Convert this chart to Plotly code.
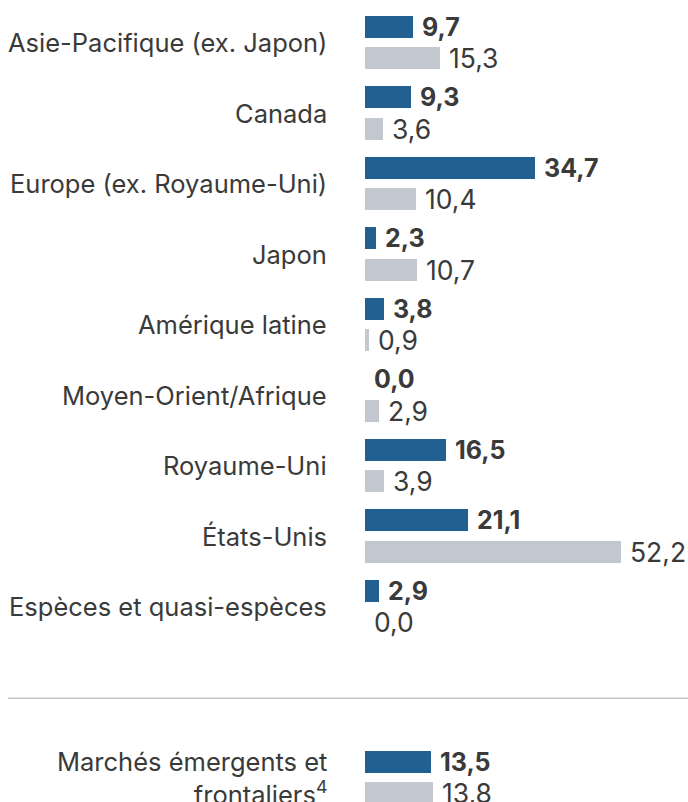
import plotly.graph_objects as go

categories = [
    "Asie-Pacifique (ex. Japon)",
    "Canada",
    "Europe (ex. Royaume-Uni)",
    "Japon",
    "Amérique latine",
    "Moyen-Orient/Afrique",
    "Royaume-Uni",
    "États-Unis",
    "Espèces et quasi-espèces",
    "Marchés émergents et<br>frontaliers<sup>4</sup>",
]
fund_values = [9.7, 9.3, 34.7, 2.3, 3.8, 0.0, 16.5, 21.1, 2.9, 13.5]
bench_values = [15.3, 3.6, 10.4, 10.7, 0.9, 2.9, 3.9, 52.2, 0.0, 13.8]
positions = [0, 1, 2, 3, 4, 5, 6, 7, 8, 10.43]
separator_pos = 9.30

BLUE = "#216091"
GRAY = "#c3c7cf"
TXT = "#3a3a3a"
FONT = "Inter"
FS_LABEL = 25.5
FS_BOLD = 25
FS_REG = 26.5
W, H = 688, 802
PLOT_LEFT = 365
LABEL_RIGHT = 329

fmt = lambda v: f"{v:.1f}".replace(".", ",")

fig = go.Figure()
bar_w = 0.312
fig.add_trace(go.Bar(
    x=fund_values, y=positions, orientation="h",
    offset=-0.376, width=bar_w,
    marker=dict(color=BLUE, line=dict(width=0)),
    hoverinfo="skip", showlegend=False,
))
fig.add_trace(go.Bar(
    x=bench_values, y=positions, orientation="h",
    offset=0.064, width=bar_w,
    marker=dict(color=GRAY, line=dict(width=0)),
    hoverinfo="skip", showlegend=False,
))

ann = []
for cat, p, fv, bv in zip(categories, positions, fund_values, bench_values):
    ann.append(dict(
        x=LABEL_RIGHT / W, xref="paper", y=p, yref="y",
        text=cat, showarrow=False, xanchor="right", yanchor="middle",
        align="right", font=dict(family=FONT, size=FS_LABEL, color=TXT),
    ))
    ann.append(dict(
        x=fv, xref="x", y=p - 0.22, yref="y",
        text=f"<b>{fmt(fv)}</b>", showarrow=False, xanchor="left",
        yanchor="middle", xshift=7,
        font=dict(family=FONT, size=FS_BOLD, color=TXT),
    ))
    ann.append(dict(
        x=bv, xref="x", y=p + 0.22, yref="y",
        text=fmt(bv), showarrow=False, xanchor="left",
        yanchor="middle", xshift=7,
        font=dict(family=FONT, size=FS_REG, color=TXT),
    ))

fig.add_shape(type="line", xref="paper", yref="y",
              x0=8 / W, x1=1, y0=separator_pos, y1=separator_pos,
              line=dict(color="#c8c8c8", width=1.5))

px_per_unit = 4.9
y_pitch = 70.5
y_first_center = 42.5
fig.update_layout(
    width=W, height=H,
    margin=dict(l=0, r=0, t=0, b=0),
    plot_bgcolor="white", paper_bgcolor="white",
    annotations=ann,
    xaxis=dict(domain=[PLOT_LEFT / W, 1], range=[0, (W - PLOT_LEFT) / px_per_unit],
               visible=False, fixedrange=True),
    yaxis=dict(range=[(H - y_first_center) / y_pitch, -y_first_center / y_pitch],
               visible=False, fixedrange=True),
    bargap=0,
)

fig.write_html("out.html")
